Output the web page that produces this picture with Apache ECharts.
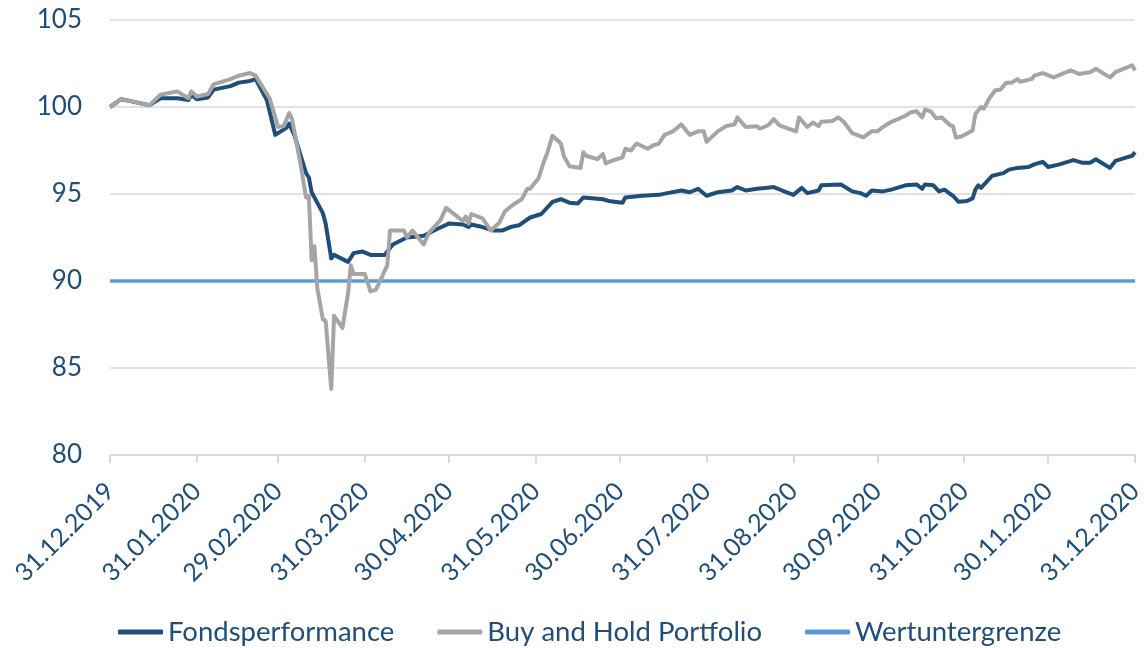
<!DOCTYPE html>
<html>
<head>
<meta charset="utf-8">
<script src="https://cdn.jsdelivr.net/npm/echarts@6/dist/echarts.min.js"></script>
<style>
  html, body { margin: 0; padding: 0; background: #fff; }
  #chart { width: 1146px; height: 648px; }
</style>
</head>
<body>
<div id="chart"></div>
<script>
// x values are days after 31.12.2019
let tickDays = [0, 31, 60, 91, 121, 152, 182, 213, 244, 274, 305, 335, 366];
let tickLabels = ['31.12.2019', '31.01.2020', '29.02.2020', '31.03.2020', '30.04.2020', '31.05.2020',
	'30.06.2020', '31.07.2020', '31.08.2020', '30.09.2020', '31.10.2020', '30.11.2020', '31.12.2020'];

let fundDays = [0, 4, 7, 14, 18, 24, 28, 29, 31, 35, 37, 43, 46, 50, 52, 56, 59, 63, 64, 66,
	70, 71, 72, 76, 77, 79, 80, 85, 87, 90, 93, 98, 101, 106, 112, 117, 121, 126, 128, 129,
	133, 137, 140, 143, 146, 150, 154, 158, 161, 164, 167, 169, 176, 178, 183, 184, 190, 196, 199, 204,
	207, 210, 213, 217, 222, 224, 227, 231, 234, 237, 240, 244, 247, 249, 253, 254, 261, 265, 268, 270,
	272, 276, 279, 284, 288, 290, 291, 294, 296, 298, 300, 301, 303, 306, 308, 309, 310, 311, 315, 319,
	321, 324, 328, 330, 333, 335, 339, 344, 347, 350, 352, 357, 359, 363, 365, 366];
let fundValues = [100.0, 100.45, 100.35, 100.1, 100.5, 100.5, 100.4, 100.7, 100.45, 100.55, 101.0, 101.2, 101.4, 101.5, 101.6, 100.4, 98.4, 98.8, 99.05, 98.3,
	96.2, 95.95, 95.1, 93.9, 93.3, 91.3, 91.5, 91.1, 91.6, 91.7, 91.5, 91.5, 92.1, 92.5, 92.6, 93.0, 93.3, 93.25, 93.1, 93.25,
	93.1, 92.9, 92.9, 93.1, 93.2, 93.65, 93.85, 94.55, 94.7, 94.5, 94.45, 94.8, 94.7, 94.6, 94.5, 94.8, 94.9, 94.95, 95.05, 95.2,
	95.1, 95.3, 94.9, 95.1, 95.2, 95.4, 95.2, 95.3, 95.35, 95.4, 95.2, 94.95, 95.35, 95.05, 95.2, 95.5, 95.55, 95.15, 95.05, 94.9,
	95.2, 95.15, 95.25, 95.5, 95.55, 95.3, 95.55, 95.5, 95.15, 95.25, 95.0, 94.9, 94.55, 94.6, 94.75, 95.25, 95.5, 95.35, 96.05, 96.2,
	96.4, 96.5, 96.55, 96.7, 96.85, 96.55, 96.7, 96.95, 96.8, 96.8, 97.0, 96.5, 96.9, 97.1, 97.2, 97.4];

let bhDays = [0, 4, 7, 14, 18, 24, 28, 29, 31, 35, 37, 43, 46, 50, 52, 57, 60, 62, 64, 65,
	68, 70, 71, 72, 73, 74, 76, 77, 79, 80, 83, 85, 86, 87, 91, 93, 95, 99, 100, 105,
	106, 108, 112, 114, 118, 120, 124, 126, 127, 128, 129, 133, 136, 139, 141, 144, 147, 149, 150, 153,
	155, 156, 158, 161, 162, 164, 168, 169, 170, 174, 176, 177, 179, 183, 184, 186, 188, 192, 194, 196,
	198, 201, 204, 207, 210, 212, 213, 217, 220, 223, 224, 227, 231, 232, 235, 237, 239, 245, 246, 249,
	251, 253, 254, 258, 260, 262, 265, 269, 272, 274, 276, 279, 282, 284, 286, 288, 290, 291, 293, 295,
	297, 300, 301, 302, 304, 308, 309, 311, 312, 314, 316, 318, 320, 322, 324, 325, 329, 330, 333, 337,
	340, 343, 346, 350, 352, 357, 359, 365, 366];
let bhValues = [100.0, 100.45, 100.35, 100.1, 100.7, 100.9, 100.5, 100.9, 100.6, 100.75, 101.3, 101.6, 101.8, 101.95, 101.8, 100.5, 98.85, 98.9, 99.65, 99.3,
	96.75, 94.8, 94.9, 91.2, 92.0, 89.6, 87.8, 87.7, 83.8, 88.0, 87.3, 89.3, 90.9, 90.4, 90.4, 89.4, 89.5, 90.9, 92.9, 92.9,
	92.5, 92.9, 92.1, 92.8, 93.5, 94.2, 93.7, 93.45, 93.7, 93.3, 93.85, 93.6, 92.9, 93.35, 94.0, 94.4, 94.7, 95.3, 95.3, 95.9,
	96.9, 97.3, 98.35, 97.9, 97.2, 96.6, 96.5, 97.4, 97.2, 97.0, 97.3, 96.75, 96.9, 97.1, 97.6, 97.5, 97.9, 97.6, 97.8, 97.9,
	98.4, 98.6, 99.0, 98.4, 98.6, 98.6, 98.0, 98.6, 98.9, 99.0, 99.4, 98.85, 98.9, 98.75, 98.95, 99.3, 98.95, 98.6, 99.4, 98.85,
	99.1, 98.9, 99.15, 99.2, 99.4, 99.15, 98.5, 98.25, 98.6, 98.6, 98.85, 99.15, 99.35, 99.5, 99.7, 99.75, 99.4, 99.85, 99.75, 99.35,
	99.4, 98.95, 98.9, 98.25, 98.3, 98.65, 99.6, 100.0, 99.9, 100.5, 100.95, 101.0, 101.4, 101.4, 101.6, 101.45, 101.6, 101.8, 101.95, 101.7,
	101.9, 102.1, 101.9, 102.0, 102.2, 101.7, 102.0, 102.4, 102.1];

let floorDays = [0, 366];
let floorValues = [90, 90];

let color = ['#1F4E79', '#A5A5A5', '#5B9BD5'];
let textColor = '#1F4E79';
let fontFamily = 'Lato, "Open Sans", sans-serif';

const pairs = (xs, ys) => xs.map((x, i) => [x, ys[i]]);

var myChart = echarts.init(document.getElementById('chart'));

let option = {
	animation: false,
	color: color,
	grid: {
		left: 110,
		right: 9,
		top: 20,
		bottom: 193,
		containLabel: false
	},
	legend: {
		top: 613,
		left: 113,
		icon: 'roundRect',
		itemWidth: 45,
		itemHeight: 5,
		itemGap: 43,
		textStyle: {
			color: textColor,
			fontSize: 27.5,
			fontFamily: fontFamily
		},
		data: ['Fondsperformance', 'Buy and Hold Portfolio', 'Wertuntergrenze']
	},
	xAxis: {
		type: 'value',
		min: 0,
		max: 366,
		splitLine: { show: false },
		axisLine: {
			lineStyle: { color: '#D9D9D9', width: 2 }
		},
		axisTick: {
			customValues: tickDays,
			length: 8,
			lineStyle: { color: '#D9D9D9', width: 2 }
		},
		axisLabel: {
			customValues: tickDays,
			rotate: 45,
			margin: 32,
			color: textColor,
			fontSize: 25,
			fontFamily: fontFamily,
			formatter: function(v) {
				let i = tickDays.indexOf(v);
				return i >= 0 ? tickLabels[i] : '';
			}
		}
	},
	yAxis: {
		type: 'value',
		min: 80,
		max: 105,
		interval: 5,
		axisLine: { show: false },
		axisTick: { show: false },
		axisLabel: {
			margin: 28,
			color: textColor,
			fontSize: 26,
			fontFamily: fontFamily
		},
		splitLine: {
			lineStyle: { color: '#D9D9D9', width: 1.5 }
		}
	},
	series: [{
		name: 'Fondsperformance',
		type: 'line',
		symbol: 'none',
		z: 3,
		lineStyle: { color: color[0], width: 4, join: 'round' },
		data: pairs(fundDays, fundValues)
	}, {
		name: 'Buy and Hold Portfolio',
		type: 'line',
		symbol: 'none',
		z: 4,
		lineStyle: { color: color[1], width: 4, join: 'round' },
		data: pairs(bhDays, bhValues)
	}, {
		name: 'Wertuntergrenze',
		type: 'line',
		symbol: 'none',
		z: 2,
		lineStyle: { color: color[2], width: 3.5 },
		data: pairs(floorDays, floorValues)
	}]
};
myChart.setOption(option);
</script>
</body>
</html>
